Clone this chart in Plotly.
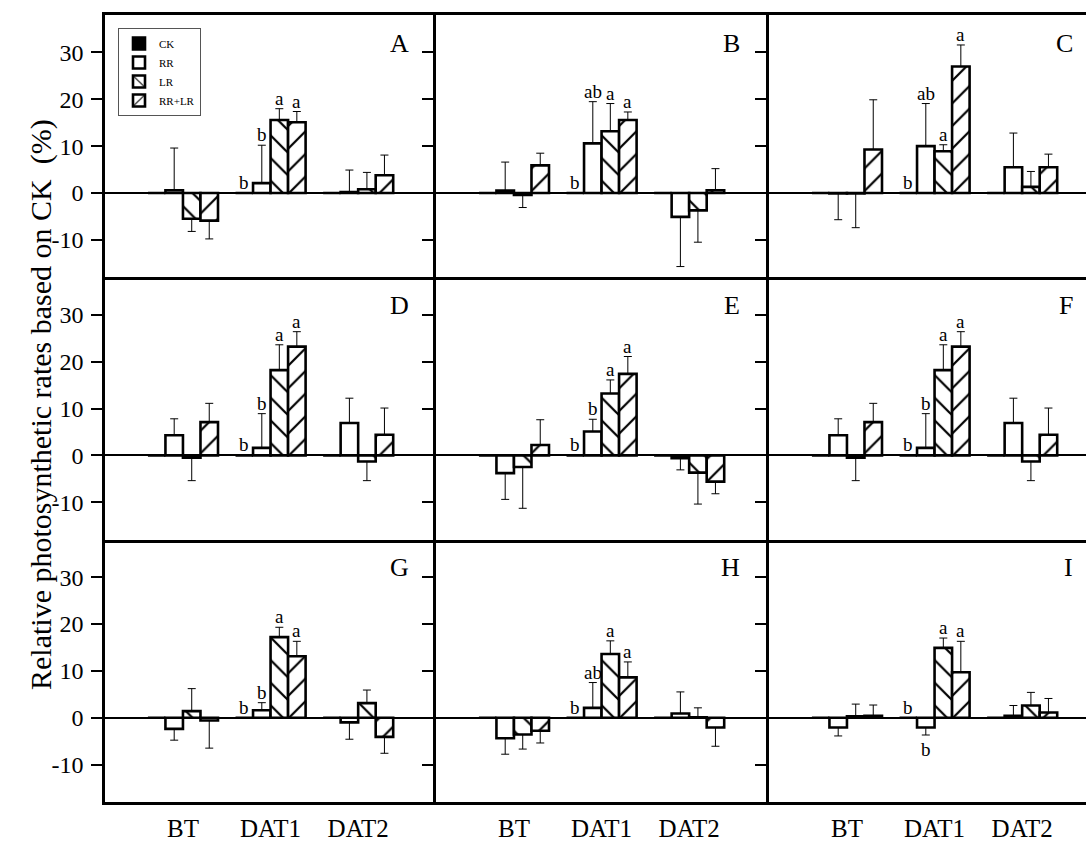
import plotly.graph_objects as go
from plotly.subplots import make_subplots

# ---------------- data ----------------
groups = ["BT", "DAT1", "DAT2"]
treatments = ["CK", "RR", "LR", "RR+LR"]
panel_names = ["A", "B", "C", "D", "E", "F", "G", "H", "I"]
y_ticks = [-10, 0, 10, 20, 30]
y_tick_text = ["-10", "0", "10", "20", "30"]

CK = [0, 0, 0]

A_RR = [0.6, 2.1, 0.2];    A_RR_err = [9.0, 8.1, 4.7]
A_LR = [-5.5, 15.6, 0.8];  A_LR_err = [2.7, 2.4, 3.6]
A_RRLR = [-5.9, 15.1, 3.8]; A_RRLR_err = [3.9, 2.3, 4.3]
A_letters = ["b", "b", "a", "a"]

B_RR = [0.5, 10.6, -5.1];  B_RR_err = [6.1, 8.9, 10.6]
B_LR = [-0.4, 13.2, -3.7]; B_LR_err = [2.7, 5.9, 6.8]
B_RRLR = [5.9, 15.6, 0.6]; B_RRLR_err = [2.6, 1.7, 4.6]
B_letters = ["b", "ab", "a", "a"]

C_RR = [-0.1, 10.0, 5.5];  C_RR_err = [5.6, 9.1, 7.3]
C_LR = [-0.1, 8.9, 1.3];   C_LR_err = [7.3, 1.4, 3.3]
C_RRLR = [9.3, 27.0, 5.5]; C_RRLR_err = [10.6, 4.6, 2.8]
C_letters = ["b", "ab", "a", "a"]

D_RR = [4.3, 1.6, 6.9];    D_RR_err = [3.5, 7.3, 5.3]
D_LR = [-0.5, 18.2, -1.3]; D_LR_err = [4.9, 5.4, 4.1]
D_RRLR = [7.1, 23.2, 4.4]; D_RRLR_err = [4.0, 3.2, 5.7]
D_letters = ["b", "b", "a", "a"]

E_RR = [-3.8, 5.1, -0.6];  E_RR_err = [5.6, 2.6, 2.5]
E_LR = [-2.5, 13.2, -3.7]; E_LR_err = [8.8, 2.9, 6.7]
E_RRLR = [2.2, 17.4, -5.6]; E_RRLR_err = [5.4, 3.7, 2.6]
E_letters = ["b", "b", "a", "a"]

F_RR = [4.3, 1.6, 6.9];    F_RR_err = [3.5, 7.3, 5.3]
F_LR = [-0.5, 18.2, -1.3]; F_LR_err = [4.9, 5.4, 4.1]
F_RRLR = [7.1, 23.2, 4.4]; F_RRLR_err = [4.0, 3.2, 5.7]
F_letters = ["b", "b", "a", "a"]

G_RR = [-2.4, 1.6, -1.0];  G_RR_err = [2.4, 1.6, 3.6]
G_LR = [1.4, 17.2, 3.1];   G_LR_err = [4.8, 2.1, 2.8]
G_RRLR = [-0.6, 13.1, -4.1]; G_RRLR_err = [5.9, 3.2, 3.5]
G_letters = ["b", "b", "a", "a"]

H_RR = [-4.4, 2.1, 0.9];   H_RR_err = [3.4, 5.4, 4.6]
H_LR = [-3.6, 13.6, 0.1];  H_LR_err = [3.1, 2.8, 2.0]
H_RRLR = [-2.8, 8.6, -2.1]; H_RRLR_err = [2.6, 3.3, 4.0]
H_letters = ["b", "ab", "a", "a"]

I_RR = [-2.1, -2.1, 0.4];  I_RR_err = [1.8, 1.6, 2.2]
I_LR = [0.3, 14.9, 2.6];   I_LR_err = [2.6, 2.1, 2.8]
I_RRLR = [0.4, 9.7, 1.1];  I_RRLR_err = [2.3, 6.6, 3.0]
I_letters = ["b", "b", "a", "a"]

panels = {
    "A": (A_RR, A_RR_err, A_LR, A_LR_err, A_RRLR, A_RRLR_err, A_letters),
    "B": (B_RR, B_RR_err, B_LR, B_LR_err, B_RRLR, B_RRLR_err, B_letters),
    "C": (C_RR, C_RR_err, C_LR, C_LR_err, C_RRLR, C_RRLR_err, C_letters),
    "D": (D_RR, D_RR_err, D_LR, D_LR_err, D_RRLR, D_RRLR_err, D_letters),
    "E": (E_RR, E_RR_err, E_LR, E_LR_err, E_RRLR, E_RRLR_err, E_letters),
    "F": (F_RR, F_RR_err, F_LR, F_LR_err, F_RRLR, F_RRLR_err, F_letters),
    "G": (G_RR, G_RR_err, G_LR, G_LR_err, G_RRLR, G_RRLR_err, G_letters),
    "H": (H_RR, H_RR_err, H_LR, H_LR_err, H_RRLR, H_RRLR_err, H_letters),
    "I": (I_RR, I_RR_err, I_LR, I_LR_err, I_RRLR, I_RRLR_err, I_letters),
}

# ---------------- style ----------------
FONT = "Liberation Serif, Times New Roman, serif"
W, H = 1086, 843
ML, MR, MT, MB = 105, 0, 15, 41
col_px = [105, 436, 769, 1086]
px_per_unit = 87.6
x_left = -0.89
y_range = [-18, 38]
pw = W - ML - MR
ph = H - MT - MB

styles = {
    "CK": dict(color="black", pattern=None),
    "RR": dict(color="white", pattern=None),
    "LR": dict(color="white", pattern=dict(shape="\\", fgcolor="black", bgcolor="white",
                                           size=16, solidity=0.14, fillmode="replace")),
    "RR+LR": dict(color="white", pattern=dict(shape="/", fgcolor="black", bgcolor="white",
                                              size=16, solidity=0.14, fillmode="replace")),
}

fig = make_subplots(rows=3, cols=3, horizontal_spacing=0, vertical_spacing=0)

annotations = []
for idx, name in enumerate(panel_names):
    r, c = idx // 3 + 1, idx % 3 + 1
    rr, rr_e, lr, lr_e, rl, rl_e, letters = panels[name]
    series = [(CK, None), (rr, rr_e), (lr, lr_e), (rl, rl_e)]
    ax_suffix = "" if idx == 0 else str(idx + 1)
    for t, (tname, (vals, errs)) in enumerate(zip(treatments, series)):
        st = styles[tname]
        marker = dict(color=st["color"], line=dict(color="black", width=2.6))
        if st["pattern"]:
            marker["pattern"] = st["pattern"]
        kw = {}
        if errs is not None:
            up = [e if v >= 0 else 0 for v, e in zip(vals, errs)]
            dn = [e if v < 0 else 0 for v, e in zip(vals, errs)]
            kw["error_y"] = dict(type="data", symmetric=False, array=up, arrayminus=dn,
                                 color="black", thickness=1, width=4)
        fig.add_trace(go.Bar(x=groups, y=vals, name=tname, marker=marker,
                             legendgroup=tname, showlegend=(idx == 0), **kw),
                      row=r, col=c)
        # significance letters in DAT1 group
        g = 1
        v = vals[g]
        e = errs[g] if errs is not None else 0
        xpos = g + (t - 1.5) * 0.2
        if v >= 0:
            annotations.append(dict(x=xpos, y=v + e, xref="x" + ax_suffix, yref="y" + ax_suffix,
                                    text=letters[t], showarrow=False, yanchor="bottom", yshift=-2,
                                    font=dict(family=FONT, size=19, color="black")))
        else:
            annotations.append(dict(x=xpos, y=v - e, xref="x" + ax_suffix, yref="y" + ax_suffix,
                                    text=letters[t], showarrow=False, yanchor="top", yshift=-2,
                                    font=dict(family=FONT, size=19, color="black")))
    # panel letter
    annotations.append(dict(x=2.6, y=32, xref="x" + ax_suffix, yref="y" + ax_suffix,
                            text=name, showarrow=False, xanchor="right", yanchor="middle",
                            font=dict(family=FONT, size=26, color="black")))

    # axes
    x0 = (col_px[c - 1] - ML) / pw
    x1 = (col_px[c] - ML) / pw
    xr = [x_left, x_left + (col_px[c] - col_px[c - 1]) / px_per_unit]
    fig.update_xaxes(domain=[x0, x1], range=xr, showline=True, mirror=(r == 1),
                     linecolor="black", linewidth=2.5, ticks="", showgrid=False, zeroline=False,
                     showticklabels=(r == 3), ticklabelstandoff=2, automargin=False,
                     tickfont=dict(family=FONT, size=25, color="black"), row=r, col=c)
    fig.update_yaxes(range=y_range, domain=[(3 - r) / 3, (4 - r) / 3], showline=True,
                     mirror=False, linecolor="black", linewidth=2.5,
                     ticks="outside", ticklen=11, tickwidth=2, tickcolor="black",
                     tickvals=y_ticks, ticktext=y_tick_text, showticklabels=(c == 1),
                     ticklabelstandoff=3, automargin=False,
                     tickfont=dict(family=FONT, size=24, color="black"),
                     showgrid=False, zeroline=True, zerolinecolor="black", zerolinewidth=2,
                     row=r, col=c)

annotations.append(dict(x=(22 - ML) / pw, y=1 - (405 - MT) / ph, xref="paper", yref="paper",
                        text="Relative photosynthetic rates based on CK\u00a0 (%)", textangle=-90,
                        showarrow=False, font=dict(family=FONT, size=30, color="black")))

fig.update_layout(
    width=W, height=H, margin=dict(l=ML, r=MR, t=MT, b=MB, autoexpand=False),
    paper_bgcolor="white", plot_bgcolor="white",
    barmode="group", bargap=0.2, bargroupgap=0,
    font=dict(family=FONT, color="black"),
    annotations=annotations,
    legend=dict(x=(118 - ML) / pw, y=1 - (28 - MT) / ph, xanchor="left", yanchor="top",
                bordercolor="#555555", borderwidth=1, bgcolor="white",
                font=dict(family=FONT, size=11, color="black"), itemwidth=30,
                traceorder="normal"),
)

fig.write_html("out.html")
